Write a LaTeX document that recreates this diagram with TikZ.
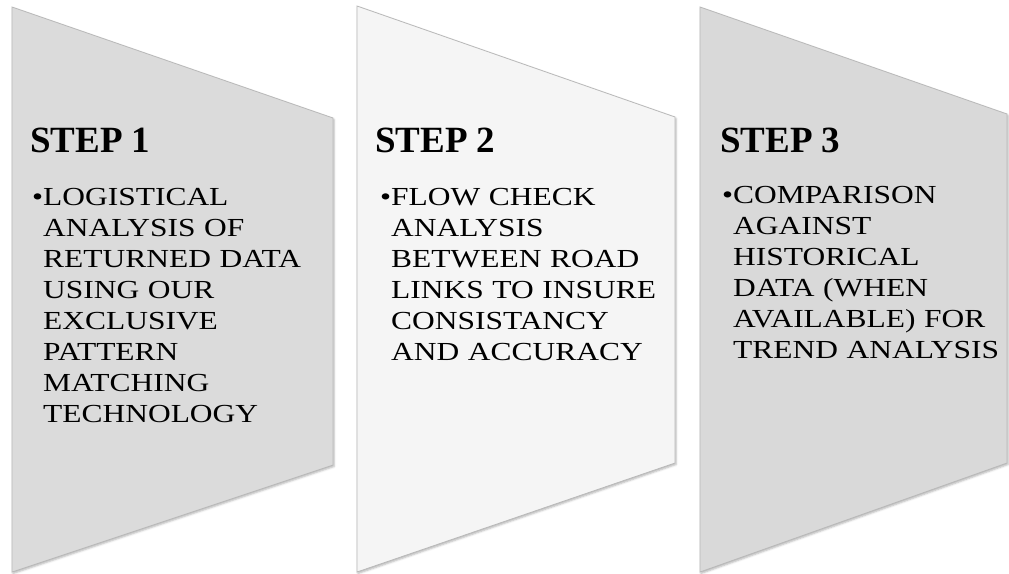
\documentclass[tikz,border=0pt]{standalone}
\usepackage{fontspec}
\setmainfont{Liberation Serif}
\newfontfamily\bodyfont{Liberation Serif}[FakeStretch=1.21]
\usetikzlibrary{positioning, calc, shadows.blur}
\newcommand{\stepbullet}{\llap{\makebox[11pt][l]{\textbullet}}}

\begin{document}
\begin{tikzpicture}[x=1pt, y=-1pt,
        stage/.style = {draw=gray!55, line width=0.8pt, blur shadow={shadow xshift=1pt, shadow yshift=-1.5pt, shadow blur radius=2pt, shadow opacity=30}},
        steptitle/.style = {anchor=base west, inner sep=0pt, font=\fontsize{37}{40}\selectfont\bfseries},
        stepbody/.style = {anchor=north west, inner sep=0pt, text width=290pt, align=left, font=\bodyfont\fontsize{26}{31}\selectfont},
    ]
        \useasboundingbox (0,0) rectangle (1009,573);

        % the three stages
        \draw[stage, fill=gray!28] (12,7) -- (333,118) -- (333,465) -- (12,572) -- cycle;
        \draw[stage, fill=gray!8] (357,6) -- (675,117) -- (675,463) -- (357,572) -- cycle;
        \draw[stage, fill=gray!30] (700,7) -- (1007,114) -- (1007,463) -- (700,572) -- cycle;

        \node[steptitle] (title1) at (30,152) {STEP 1};
        \node[stepbody, below right=36pt and 13pt of title1.base west, anchor=north west] (body1) {\stepbullet LOGISTICAL\\ANALYSIS OF\\RETURNED DATA\\USING OUR\\EXCLUSIVE\\PATTERN\\MATCHING\\TECHNOLOGY};

        \node[steptitle] (title2) at (375,152) {STEP 2};
        \node[stepbody, below right=36pt and 16pt of title2.base west, anchor=north west] (body2) {\stepbullet FLOW CHECK\\ANALYSIS\\BETWEEN ROAD\\LINKS TO INSURE\\CONSISTANCY\\AND ACCURACY};

        \node[steptitle] (title3) at (720,152) {STEP 3};
        \node[stepbody, below right=34pt and 13pt of title3.base west, anchor=north west] (body3) {\stepbullet COMPARISON\\AGAINST\\HISTORICAL\\DATA (WHEN\\AVAILABLE) FOR\\TREND ANALYSIS};
    \end{tikzpicture}
\end{document}
